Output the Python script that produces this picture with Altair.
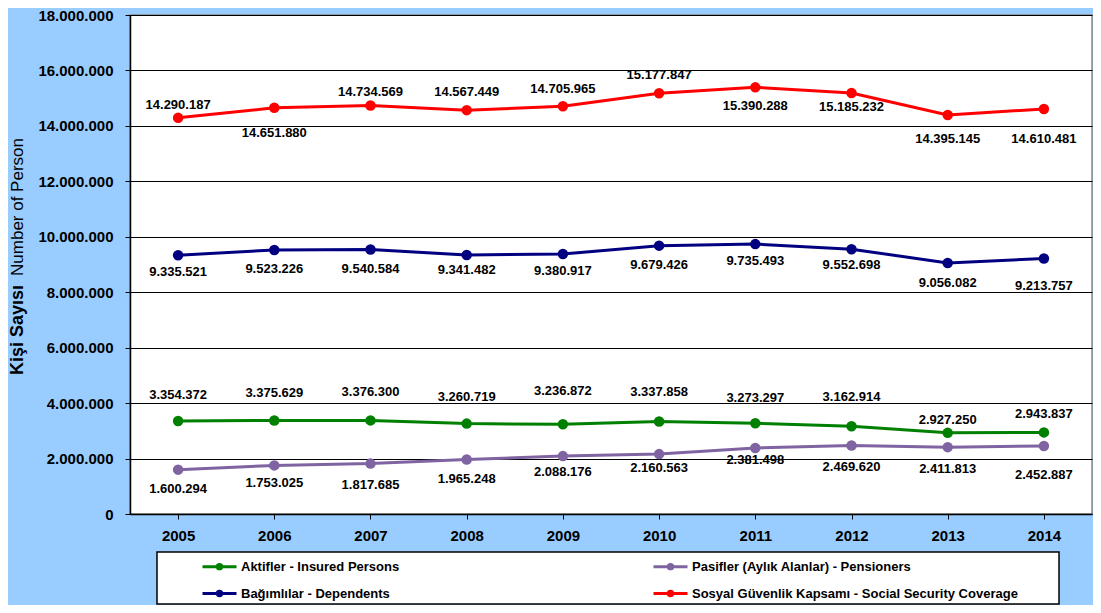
import altair as alt
import pandas as pd

# ---------------- data ----------------
years = ["2005", "2006", "2007", "2008", "2009", "2010", "2011", "2012", "2013", "2014"]
aktifler = [3354372, 3375629, 3376300, 3260719, 3236872, 3337858, 3273297, 3162914, 2927250, 2943837]
pasifler = [1600294, 1753025, 1817685, 1965248, 2088176, 2160563, 2381498, 2469620, 2411813, 2452887]
bagimlilar = [9335521, 9523226, 9540584, 9341482, 9380917, 9679426, 9735493, 9552698, 9056082, 9213757]
sgk = [14290187, 14651880, 14734569, 14567449, 14705965, 15177847, 15390288, 15185232, 14395145, 14610481]

series_names = [
    "Aktifler - Insured Persons",
    "Pasifler (Aylık Alanlar) - Pensioners",
    "Bağımlılar - Dependents",
    "Sosyal Güvenlik Kapsamı - Social Security Coverage",
]
series_values = [aktifler, pasifler, bagimlilar, sgk]
y_ticks = [0, 2000000, 4000000, 6000000, 8000000, 10000000, 12000000, 14000000, 16000000, 18000000]

# ---------------- styling (kept apart from data) ----------------
series_colors = ["#008000", "#8064A2", "#000080", "#FF0000"]
# legend fills column by column: left column Aktifler, Bağımlılar; right column Pasifler, Sosyal
legend_slot = [0, 2, 1, 3]
# pixel offsets of the value labels from their points (negative = above)
label_offsets = [
    [-26, -27, -28, -27, -33, -29, -25, -29, -13, -18],
    [19, 18, 21, 19, 16, 14, 12, 21, 22, 29],
    [17, 19, 19, 15, 17, 19, 17, 16, 20, 27],
    [-13, 25, -14, -18, -17, -18, 19, 14, 24, 30],
]

FONT = "Liberation Sans"
PLOT_W = 962
PLOT_H = 499
Y_MAX = 18000000

rows = []
for idx, (name, vals, offs) in enumerate(zip(series_names, series_values, label_offsets)):
    for yr, v, o in zip(years, vals, offs):
        rows.append({
            "year": yr,
            "value": v,
            "series": name,
            "key": str(legend_slot[idx]),
            "label": f"{v:,}".replace(",", "."),
            "dy": o,
        })
df = pd.DataFrame(rows)

slot_names = [None] * 4
slot_colors = [None] * 4
for idx, s in enumerate(legend_slot):
    slot_names[s] = series_names[idx]
    slot_colors[s] = series_colors[idx]
name_array = "[" + ",".join("'" + n + "'" for n in slot_names) + "]"

x_enc = alt.X(
    "year:N",
    sort=years,
    scale=alt.Scale(paddingInner=0, paddingOuter=0),
    axis=alt.Axis(
        title=None,
        labelAngle=0,
        labelFont=FONT,
        labelFontSize=15,
        labelFontWeight="bold",
        labelColor="black",
        labelPadding=9,
        bandPosition=0,
        ticks=True,
        tickSize=5,
        tickColor="black",
        domainColor="black",
        domainWidth=1.5,
        grid=False,
    ),
)
y_scale = alt.Scale(domain=[0, Y_MAX], nice=False)
y_enc = alt.Y(
    "value:Q",
    scale=y_scale,
    axis=alt.Axis(
        title=None,
        values=y_ticks,
        labelExpr="replace(format(datum.value, ','), regexp(',', 'g'), '.')",
        labelFont=FONT,
        labelFontSize=15,
        labelFontWeight="bold",
        labelColor="black",
        labelPadding=12,
        tickSize=5,
        tickColor="black",
        domainColor="black",
        domainWidth=1.5,
        grid=True,
        gridColor="black",
        gridWidth=1,
    ),
)
color_enc = alt.Color(
    "key:N",
    scale=alt.Scale(domain=["0", "1", "2", "3"], range=slot_colors),
    legend=alt.Legend(
        title=None,
        orient="none",
        legendX=71,
        legendY=533,
        columns=2,
        columnPadding=247,
        rowPadding=-7,
        labelExpr=name_array + "[toNumber(datum.value)]",
        labelFont=FONT,
        labelFontSize=13,
        labelFontWeight="bold",
        labelColor="black",
        labelLimit=500,
        symbolType="M-1,0L1,0M0.13,0A0.13,0.13 0 1,1 -0.13,0A0.13,0.13 0 1,1 0.13,0Z",
        symbolSize=1156,
        symbolStrokeWidth=3,
        labelOffset=3,
        padding=0,
    ),
)

frame = alt.Chart(pd.DataFrame({"k": [0]})).mark_rect(
    fill="white", stroke="black", strokeWidth=1.5
).encode(
    x=alt.value(27), x2=alt.value(929), y=alt.value(537), y2=alt.value(589)
)

base = alt.Chart(df)
lines = base.mark_line(strokeWidth=3).encode(x=x_enc, y=y_enc, color=color_enc)
points = base.mark_point(filled=True, size=110, opacity=1).encode(
    x=x_enc, y=y_enc, color=color_enc
)
labels = base.transform_calculate(
    label_pos=f"datum.value - datum.dy * {Y_MAX} / {PLOT_H}"
).mark_text(
    font=FONT, fontSize=13, fontWeight="bold", color="black", baseline="middle"
).encode(
    x=x_enc,
    y=alt.Y("label_pos:Q", scale=y_scale),
    text="label:N",
)

title_df = pd.DataFrame({"t": ["Kişi Sayısı"]})
title_bold = alt.Chart(title_df).mark_text(
    font=FONT, fontSize=18, fontWeight="bold", angle=270, color="black",
    baseline="middle", align="center"
).encode(x=alt.value(-112), y=alt.value(315), text="t:N")
title_df2 = pd.DataFrame({"t": ["Number of Person"]})
title_norm = alt.Chart(title_df2).mark_text(
    font=FONT, fontSize=17, fontWeight="normal", angle=270, color="black",
    baseline="middle", align="center"
).encode(x=alt.value(-112), y=alt.value(192), text="t:N")

chart = alt.layer(frame, lines, points, labels, title_bold, title_norm).properties(
    width=PLOT_W,
    height=PLOT_H,
    background="#99CCFF",
    padding={"left": 122, "top": 7, "right": 1, "bottom": 91},
    autosize=alt.AutoSizeParams(type="none"),
).configure_view(
    fill="white", stroke="#888888", strokeWidth=1.5
)

chart.save("out.html", embed_options={"renderer": "svg", "actions": False})
